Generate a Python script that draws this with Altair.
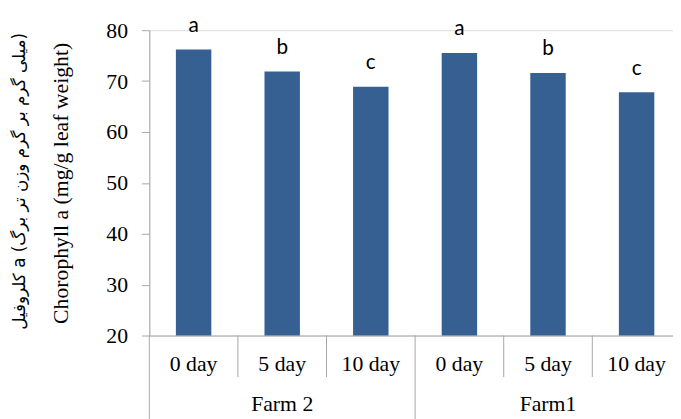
import altair as alt
import pandas as pd

# ---- data ----
farms = ["Farm 2", "Farm 2", "Farm 2", "Farm1", "Farm1", "Farm1"]
days = ["0 day", "5 day", "10 day", "0 day", "5 day", "10 day"]
values = [76.2, 71.9, 68.9, 75.5, 71.6, 67.8]
letters = ["a", "b", "c", "a", "b", "c"]
group_names = ["Farm 2", "Farm1"]
y_ticks = [20, 30, 40, 50, 60, 70, 80]

title_en = "Chorophyll a (mg/g leaf weight)"
title_fa = "کلروفیل a (میلی گرم بر گرم وزن تر برگ)"

n = len(days)
per_group = 3

bars_df = pd.DataFrame({"i": list(range(n)), "farm": farms, "day": days,
                        "value": values, "letter": letters})
groups_df = pd.DataFrame({"g": list(range(len(group_names))), "name": group_names})
bounds_df = pd.DataFrame({"b": list(range(n + 1))})
bounds_df["long"] = (bounds_df["b"] % per_group == 0).astype(int)

BAR = "#376092"
GRAY = "#a6a6a6"
SERIF = "Liberation Serif, Times New Roman, serif"
W_RANGE = 538  # full category span (the reference is cropped at the right)

xs = alt.Scale(domain=[0, n], range=[0, W_RANGE], nice=False, zero=False)
ys = alt.Scale(domain=[20, 80], nice=False, zero=False)

base = alt.Chart(bars_df).transform_calculate(
    x0="datum.i + 0.3", x1="datum.i + 0.7", xc="datum.i + 0.5", ybase="20"
)

bars = base.mark_bar(color=BAR).encode(
    x=alt.X("x0:Q", scale=xs,
            axis=alt.Axis(labels=False, ticks=False, grid=False, title=None,
                          domainColor=GRAY, domainWidth=1)),
    x2="x1:Q",
    y=alt.Y("value:Q", scale=ys,
            axis=alt.Axis(values=y_ticks, title=None, grid=False,
                          labelFont=SERIF, labelFontSize=22,
                          labelColor="black", tickColor=GRAY, domainColor=GRAY,
                          tickSize=8, labelPadding=14)),
    y2="ybase:Q",
)

sig = base.mark_text(font="Lato", fontSize=21, color="black",
                     baseline="alphabetic", dy=-18).encode(
    x=alt.X("xc:Q", scale=xs), y=alt.Y("value:Q", scale=ys), text="letter:N"
)

day_lbl = base.mark_text(font=SERIF, fontSize=22, color="black",
                         baseline="alphabetic").encode(
    x=alt.X("xc:Q", scale=xs), y=alt.value(345), text="day:N"
)

farm_lbl = alt.Chart(groups_df).transform_calculate(
    gc="datum.g * %d + %f" % (per_group, per_group / 2)
).mark_text(font=SERIF, fontSize=22, color="black",
            baseline="alphabetic").encode(
    x=alt.X("gc:Q", scale=xs), y=alt.value(385), text="name:N"
)

seps_long = alt.Chart(bounds_df).transform_filter("datum.long == 1").mark_rule(
    color=GRAY, strokeWidth=1).encode(
    x=alt.X("b:Q", scale=xs), y=alt.value(309), y2=alt.value(400)
)
seps_short = alt.Chart(bounds_df).transform_filter("datum.long == 0").mark_rule(
    color=GRAY, strokeWidth=1).encode(
    x=alt.X("b:Q", scale=xs), y=alt.value(309), y2=alt.value(351)
)

one = pd.DataFrame({"t": [0]})
t_en = alt.Chart(one).mark_text(font=SERIF, fontSize=22, color="black",
                                angle=270, align="center", baseline="middle").encode(
    x=alt.value(-89), y=alt.value(155), text=alt.value(title_en)
)
t_fa = alt.Chart(one).mark_text(font="DejaVu Sans", fontSize=17, color="black",
                                angle=270, align="center", baseline="middle").encode(
    x=alt.value(-131), y=alt.value(153), text=alt.value(title_fa)
)

chart = alt.layer(bars, sig, day_lbl, farm_lbl, seps_long, seps_short, t_en, t_fa).properties(
    width=530, height=309,
    padding={"left": 143, "top": 20, "right": 0, "bottom": 82},
    autosize=alt.AutoSizeParams(type="none"),
).configure_view(stroke=None).configure(background="white")

chart.save("out.html", embed_options={"renderer": "svg", "actions": False})
